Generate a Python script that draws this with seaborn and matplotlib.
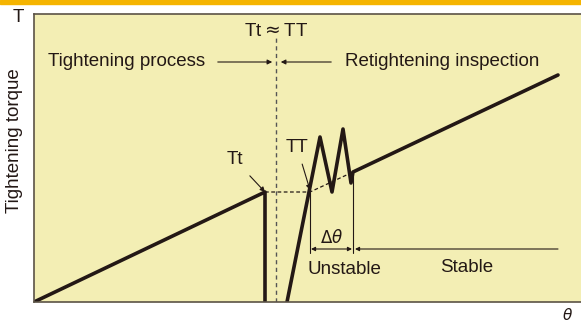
import matplotlib
matplotlib.use("Agg")
import matplotlib.pyplot as plt
import seaborn as sns
import pandas as pd
from matplotlib.patches import Rectangle

# schematic curve (x to the right, torque up)
curve_x = [34, 265, 265]
curve_y = [0, 110, 0]
retight_x = [287, 320, 332, 343, 351, 353, 558]
retight_y = [0, 165, 110, 173, 119, 130, 227]
dash_x = [265, 310, 353]
dash_y = [110, 110, 130]

theta_unstable = [310, 353]
theta_stable_end = 558

ink = "#231815"
bg = "#F3EEB4"
fs = 13.5

sns.set_theme(style="white")
plt.rcParams["font.family"] = ["Liberation Sans", "DejaVu Sans"]

fig = plt.figure(figsize=(5.81, 3.24), dpi=100)
ax = fig.add_axes([34 / 581, 22 / 324, 547 / 581, 288 / 324])
ax.set_facecolor(bg)

df1 = pd.DataFrame({"x": curve_x, "y": curve_y})
df2 = pd.DataFrame({"x": retight_x, "y": retight_y})
sns.lineplot(data=df1, x="x", y="y", sort=False, estimator=None, color=ink, lw=2.6, ax=ax)
sns.lineplot(data=df2, x="x", y="y", sort=False, estimator=None, color=ink, lw=2.6, ax=ax)
ax.plot(dash_x, dash_y, ls=(0, (3, 2)), color=ink, lw=0.9)

# boundary between the two phases
ax.plot([276, 276], [0, 266], ls=(0, (3, 2.5)), color="#555", lw=1)
ax.text(276, 262, "Tt$\\approx$TT", ha="center", va="bottom", fontsize=fs, color=ink)

ax.text(48, 240, "Tightening process", ha="left", va="center", fontsize=fs, color=ink)
ax.annotate("", xy=(275, 240), xytext=(215, 240),
            arrowprops=dict(arrowstyle="-|>", color=ink, lw=0.8, mutation_scale=7))
ax.text(345, 240, "Retightening inspection", ha="left", va="center", fontsize=fs, color=ink)
ax.annotate("", xy=(278, 240), xytext=(334, 240),
            arrowprops=dict(arrowstyle="-|>", color=ink, lw=0.8, mutation_scale=7))

# point labels
ax.annotate("Tt", xy=(265, 110), xytext=(235, 142), ha="center", va="center",
            fontsize=fs, color=ink,
            arrowprops=dict(arrowstyle="-|>", color=ink, lw=0.8, mutation_scale=7,
                            shrinkA=4, shrinkB=0))
ax.annotate("TT", xy=(310, 112), xytext=(297, 155), ha="center", va="center",
            fontsize=fs, color=ink,
            arrowprops=dict(arrowstyle="-|>", color=ink, lw=0.8, mutation_scale=7,
                            shrinkA=4, shrinkB=0))

# unstable / stable ranges
ax.plot([theta_unstable[0]] * 2, [49, 110], color=ink, lw=0.8)
ax.plot([theta_unstable[1]] * 2, [49, 128], color=ink, lw=0.8)
ax.annotate("", xy=(theta_unstable[0] + 1, 53), xytext=(theta_unstable[1] - 1, 53),
            arrowprops=dict(arrowstyle="<|-|>", color=ink, lw=0.8, mutation_scale=6,
                            shrinkA=0, shrinkB=0))
ax.text(sum(theta_unstable) / 2, 56, "$\\Delta\\theta$", ha="center", va="bottom",
        fontsize=12, color=ink)
ax.annotate("", xy=(theta_unstable[1] + 2, 53), xytext=(theta_stable_end, 53),
            arrowprops=dict(arrowstyle="-|>", color=ink, lw=0.8, mutation_scale=6,
                            shrinkA=0, shrinkB=0))
ax.text(344, 32, "Unstable", ha="center", va="center", fontsize=fs, color=ink)
ax.text(467, 34, "Stable", ha="center", va="center", fontsize=fs, color=ink)

ax.set_xlim(34, 581)
ax.set_ylim(0, 288)
ax.set_xticks([])
ax.set_yticks([])
ax.set_xlabel("")
ax.set_ylabel("")
for side in ["left", "bottom", "top"]:
    ax.spines[side].set_color("#5b5346")
    ax.spines[side].set_linewidth(1.2)
ax.spines["right"].set_visible(False)

fig.text(18 / 581, 1 - 18 / 324, "T", ha="center", va="center", fontsize=fs, color=ink)
fig.text(15 / 581, 1 - 141 / 324, "Tightening torque", rotation=90,
         ha="center", va="center", fontsize=fs, color=ink)
fig.text(568 / 581, 1 - 315 / 324, "$\\theta$", ha="center", va="center",
         fontsize=11, color=ink)
fig.patches.append(Rectangle((0, 1 - 4 / 324), 1, 4 / 324, transform=fig.transFigure,
                             color="#F5B400", zorder=5))

fig.savefig("out.png", dpi=100)
